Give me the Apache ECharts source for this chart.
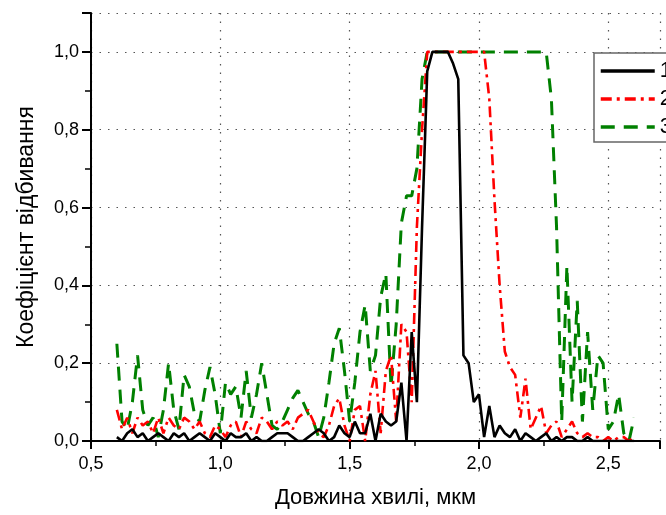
<!DOCTYPE html>
<html>
<head>
<meta charset="utf-8">
<script src="https://cdn.jsdelivr.net/npm/echarts@6/dist/echarts.min.js"></script>
<style>
  html, body { margin: 0; padding: 0; background: #fff; }
  #chart { width: 666px; height: 515px; }
</style>
</head>
<body>
<div id="chart"></div>
<script>
// wavelength grid, um
var wavelength = [
  0.60, 0.62, 0.64, 0.66, 0.68, 0.70, 0.72, 0.74, 0.76, 0.78,
  0.80, 0.82, 0.84, 0.86, 0.88, 0.90, 0.92, 0.94, 0.96, 0.98,
  1.00, 1.02, 1.04, 1.06, 1.08, 1.10, 1.12, 1.14, 1.16, 1.18,
  1.20, 1.22, 1.24, 1.26, 1.28, 1.30, 1.32, 1.34, 1.36, 1.38,
  1.40, 1.42, 1.44, 1.46, 1.48, 1.50, 1.52, 1.54, 1.56, 1.58,
  1.60, 1.62, 1.64, 1.66, 1.68, 1.70, 1.72, 1.74, 1.76, 1.78,
  1.80, 1.82, 1.84, 1.86, 1.88, 1.90, 1.92, 1.94, 1.96, 1.98,
  2.00, 2.02, 2.04, 2.06, 2.08, 2.10, 2.12, 2.14, 2.16, 2.18,
  2.20, 2.22, 2.24, 2.26, 2.28, 2.30, 2.32, 2.34, 2.36, 2.38,
  2.40, 2.42, 2.44, 2.46, 2.48, 2.50, 2.52, 2.54, 2.56, 2.58,
  2.60
];

// curve 1 (black, solid)
var refl1 = [
  0.01, 0.00, 0.02, 0.03, 0.01, 0.02, 0.00, 0.01, 0.02, 0.01,
  0.00, 0.02, 0.01, 0.02, 0.00, 0.01, 0.02, 0.01, 0.00, 0.02,
  0.01, 0.00, 0.02, 0.01, 0.01, 0.02, 0.00, 0.01, 0.00, 0.00,
  0.01, 0.02, 0.02, 0.02, 0.01, 0.00, 0.00, 0.01, 0.02, 0.03,
  0.02, 0.00, 0.01, 0.04, 0.02, 0.01, 0.05, 0.02, 0.02, 0.07,
  0.00, 0.07, 0.05, 0.04, 0.05, 0.15, 0.00, 0.28, 0.10, 0.55,
  0.95, 1.00, 1.00, 1.00, 1.00, 0.97, 0.93, 0.22, 0.20, 0.10,
  0.12, 0.01, 0.09, 0.01, 0.04, 0.02, 0.01, 0.03, 0.00, 0.02,
  0.01, 0.00, 0.01, 0.02, 0.00, 0.01, 0.00, 0.01, 0.01, 0.00,
  0.00, 0.01, 0.00, 0.00, 0.00, 0.00, 0.00, 0.00, 0.00, 0.00,
  0.00
];

// curve 2 (red, dash-dot)
var refl2 = [
  0.08, 0.03, 0.06, 0.02, 0.06, 0.04, 0.05, 0.02, 0.06, 0.02,
  0.06, 0.04, 0.03, 0.06, 0.05, 0.03, 0.05, 0.02, 0.01, 0.04,
  0.03, 0.01, 0.04, 0.05, 0.01, 0.05, 0.03, 0.02, 0.06, 0.05,
  0.03, 0.05, 0.04, 0.05, 0.03, 0.06, 0.07, 0.08, 0.05, 0.02,
  0.01, 0.04, 0.09, 0.11, 0.04, 0.00, 0.08, 0.09, 0.00, 0.12,
  0.18, 0.02, 0.18, 0.22, 0.05, 0.30, 0.28, 0.10, 0.55, 0.80,
  1.00, 1.00, 1.00, 1.00, 1.00, 1.00, 1.00, 1.00, 1.00, 1.00,
  1.00, 1.00, 0.88, 0.62, 0.40, 0.23, 0.19, 0.17, 0.06, 0.16,
  0.03, 0.06, 0.09, 0.02, 0.04, 0.05, 0.01, 0.03, 0.05, 0.02,
  0.01, 0.02, 0.01, 0.01, 0.00, 0.01, 0.00, 0.01, 0.01, 0.00,
  0.01
];

// curve 3 (green, dashed)
var refl3 = [
  0.25, 0.05, 0.03, 0.10, 0.22, 0.08, 0.04, 0.06, 0.01, 0.08,
  0.20, 0.08, 0.03, 0.17, 0.14, 0.07, 0.05, 0.13, 0.19, 0.12,
  0.02, 0.15, 0.12, 0.14, 0.06, 0.18, 0.06, 0.12, 0.20, 0.12,
  0.04, 0.03, 0.05, 0.08, 0.11, 0.13, 0.10, 0.07, 0.05, 0.01,
  0.06, 0.15, 0.25, 0.29, 0.18, 0.05, 0.15, 0.28, 0.35, 0.18,
  0.22, 0.37, 0.43, 0.14, 0.30, 0.56, 0.63, 0.63, 0.70, 0.93,
  1.00, 1.00, 1.00, 1.00, 1.00, 1.00, 1.00, 1.00, 1.00, 1.00,
  1.00, 1.00, 1.00, 1.00, 1.00, 1.00, 1.00, 1.00, 1.00, 1.00,
  1.00, 1.00, 1.00, 1.00, 0.88, 0.55, 0.05, 0.45, 0.10, 0.36,
  0.05, 0.28, 0.08, 0.22, 0.20, 0.03, 0.05, 0.12, 0.02, 0.00,
  0.06
];

var seriesNames = ['1', '2', '3'];
var xTicks = [0.5, 1.0, 1.5, 2.0, 2.5];

function pairs(ys) {
  var out = [];
  for (var i = 0; i < wavelength.length; i++) {
    out.push([wavelength[i], ys[i]]);
  }
  return out;
}

function comma(v) {
  return v.toFixed(1).replace('.', ',');
}

var font = 'Arial, "Liberation Sans", sans-serif';
var dotted = { color: '#555', width: 1.2, type: [1.5, 7] };

var chart = echarts.init(document.getElementById('chart'), null, { renderer: 'canvas' });

var option = {
  animation: false,
  backgroundColor: '#fff',
  grid: { left: 91, top: 13, right: 6, bottom: 74, containLabel: false },
  legend: {
    orient: 'vertical',
    left: 594,
    top: 53,
    padding: [7, 4, 4, 5],
    itemWidth: 54,
    itemHeight: 14,
    itemGap: 6,
    borderColor: '#666',
    borderWidth: 1.5,
    borderRadius: 0,
    backgroundColor: '#fff',
    itemStyle: { opacity: 0 },
    lineStyle: { width: 3.5 },
    textStyle: { fontFamily: font, fontSize: 22, color: '#000' },
    data: seriesNames
  },
  xAxis: {
    type: 'value',
    min: 0.5,
    max: 2.7,
    interval: 0.5,
    name: 'Довжина хвилі, мкм',
    nameLocation: 'middle',
    nameGap: 46,
    nameTextStyle: { fontFamily: font, fontSize: 22, color: '#000' },
    axisLine: { onZero: false, lineStyle: { color: '#000', width: 2 } },
    axisTick: { inside: false, length: 8, lineStyle: { color: '#000', width: 2 } },
    minorTick: { show: true, splitNumber: 2, length: 5, lineStyle: { color: '#000', width: 1.5 } },
    axisLabel: {
      fontFamily: font, fontSize: 18, color: '#000', margin: 14,
      formatter: function (v) { return xTicks.indexOf(Math.round(v * 10) / 10) >= 0 ? comma(v) : ''; }
    },
    splitLine: { show: true, lineStyle: dotted }
  },
  yAxis: {
    type: 'value',
    min: 0,
    max: 1.1,
    interval: 0.2,
    name: 'Коефіцієнт відбивання',
    nameLocation: 'middle',
    nameGap: 53,
    nameTextStyle: { fontFamily: font, fontSize: 23, color: '#000' },
    axisLine: { show: true, lineStyle: { color: '#000', width: 2 } },
    axisTick: { show: true, inside: false, length: 9, lineStyle: { color: '#000', width: 2 } },
    minorTick: { show: true, splitNumber: 2, length: 6, lineStyle: { color: '#000', width: 1.5 } },
    axisLabel: {
      fontFamily: font, fontSize: 18, color: '#000', margin: 12,
      showMaxLabel: false,
      formatter: function (v) { return v > 1.05 ? '' : comma(v); }
    },
    splitLine: { show: true, lineStyle: dotted }
  },
  series: [
    {
      name: '1', type: 'line', data: pairs(refl1), symbol: 'none', z: 5,
      lineStyle: { color: '#000', width: 2.6, type: 'solid' },
      itemStyle: { color: '#000' }
    },
    {
      name: '2', type: 'line', data: pairs(refl2), symbol: 'none', z: 4,
      lineStyle: { color: '#ff0000', width: 2.6, type: [11, 5, 3, 5] },
      itemStyle: { color: '#ff0000' }
    },
    {
      name: '3', type: 'line', data: pairs(refl3), symbol: 'none', z: 3,
      lineStyle: { color: '#008000', width: 3, type: [14, 9] },
      itemStyle: { color: '#008000' }
    }
  ]
};

chart.setOption(option);
</script>
</body>
</html>
